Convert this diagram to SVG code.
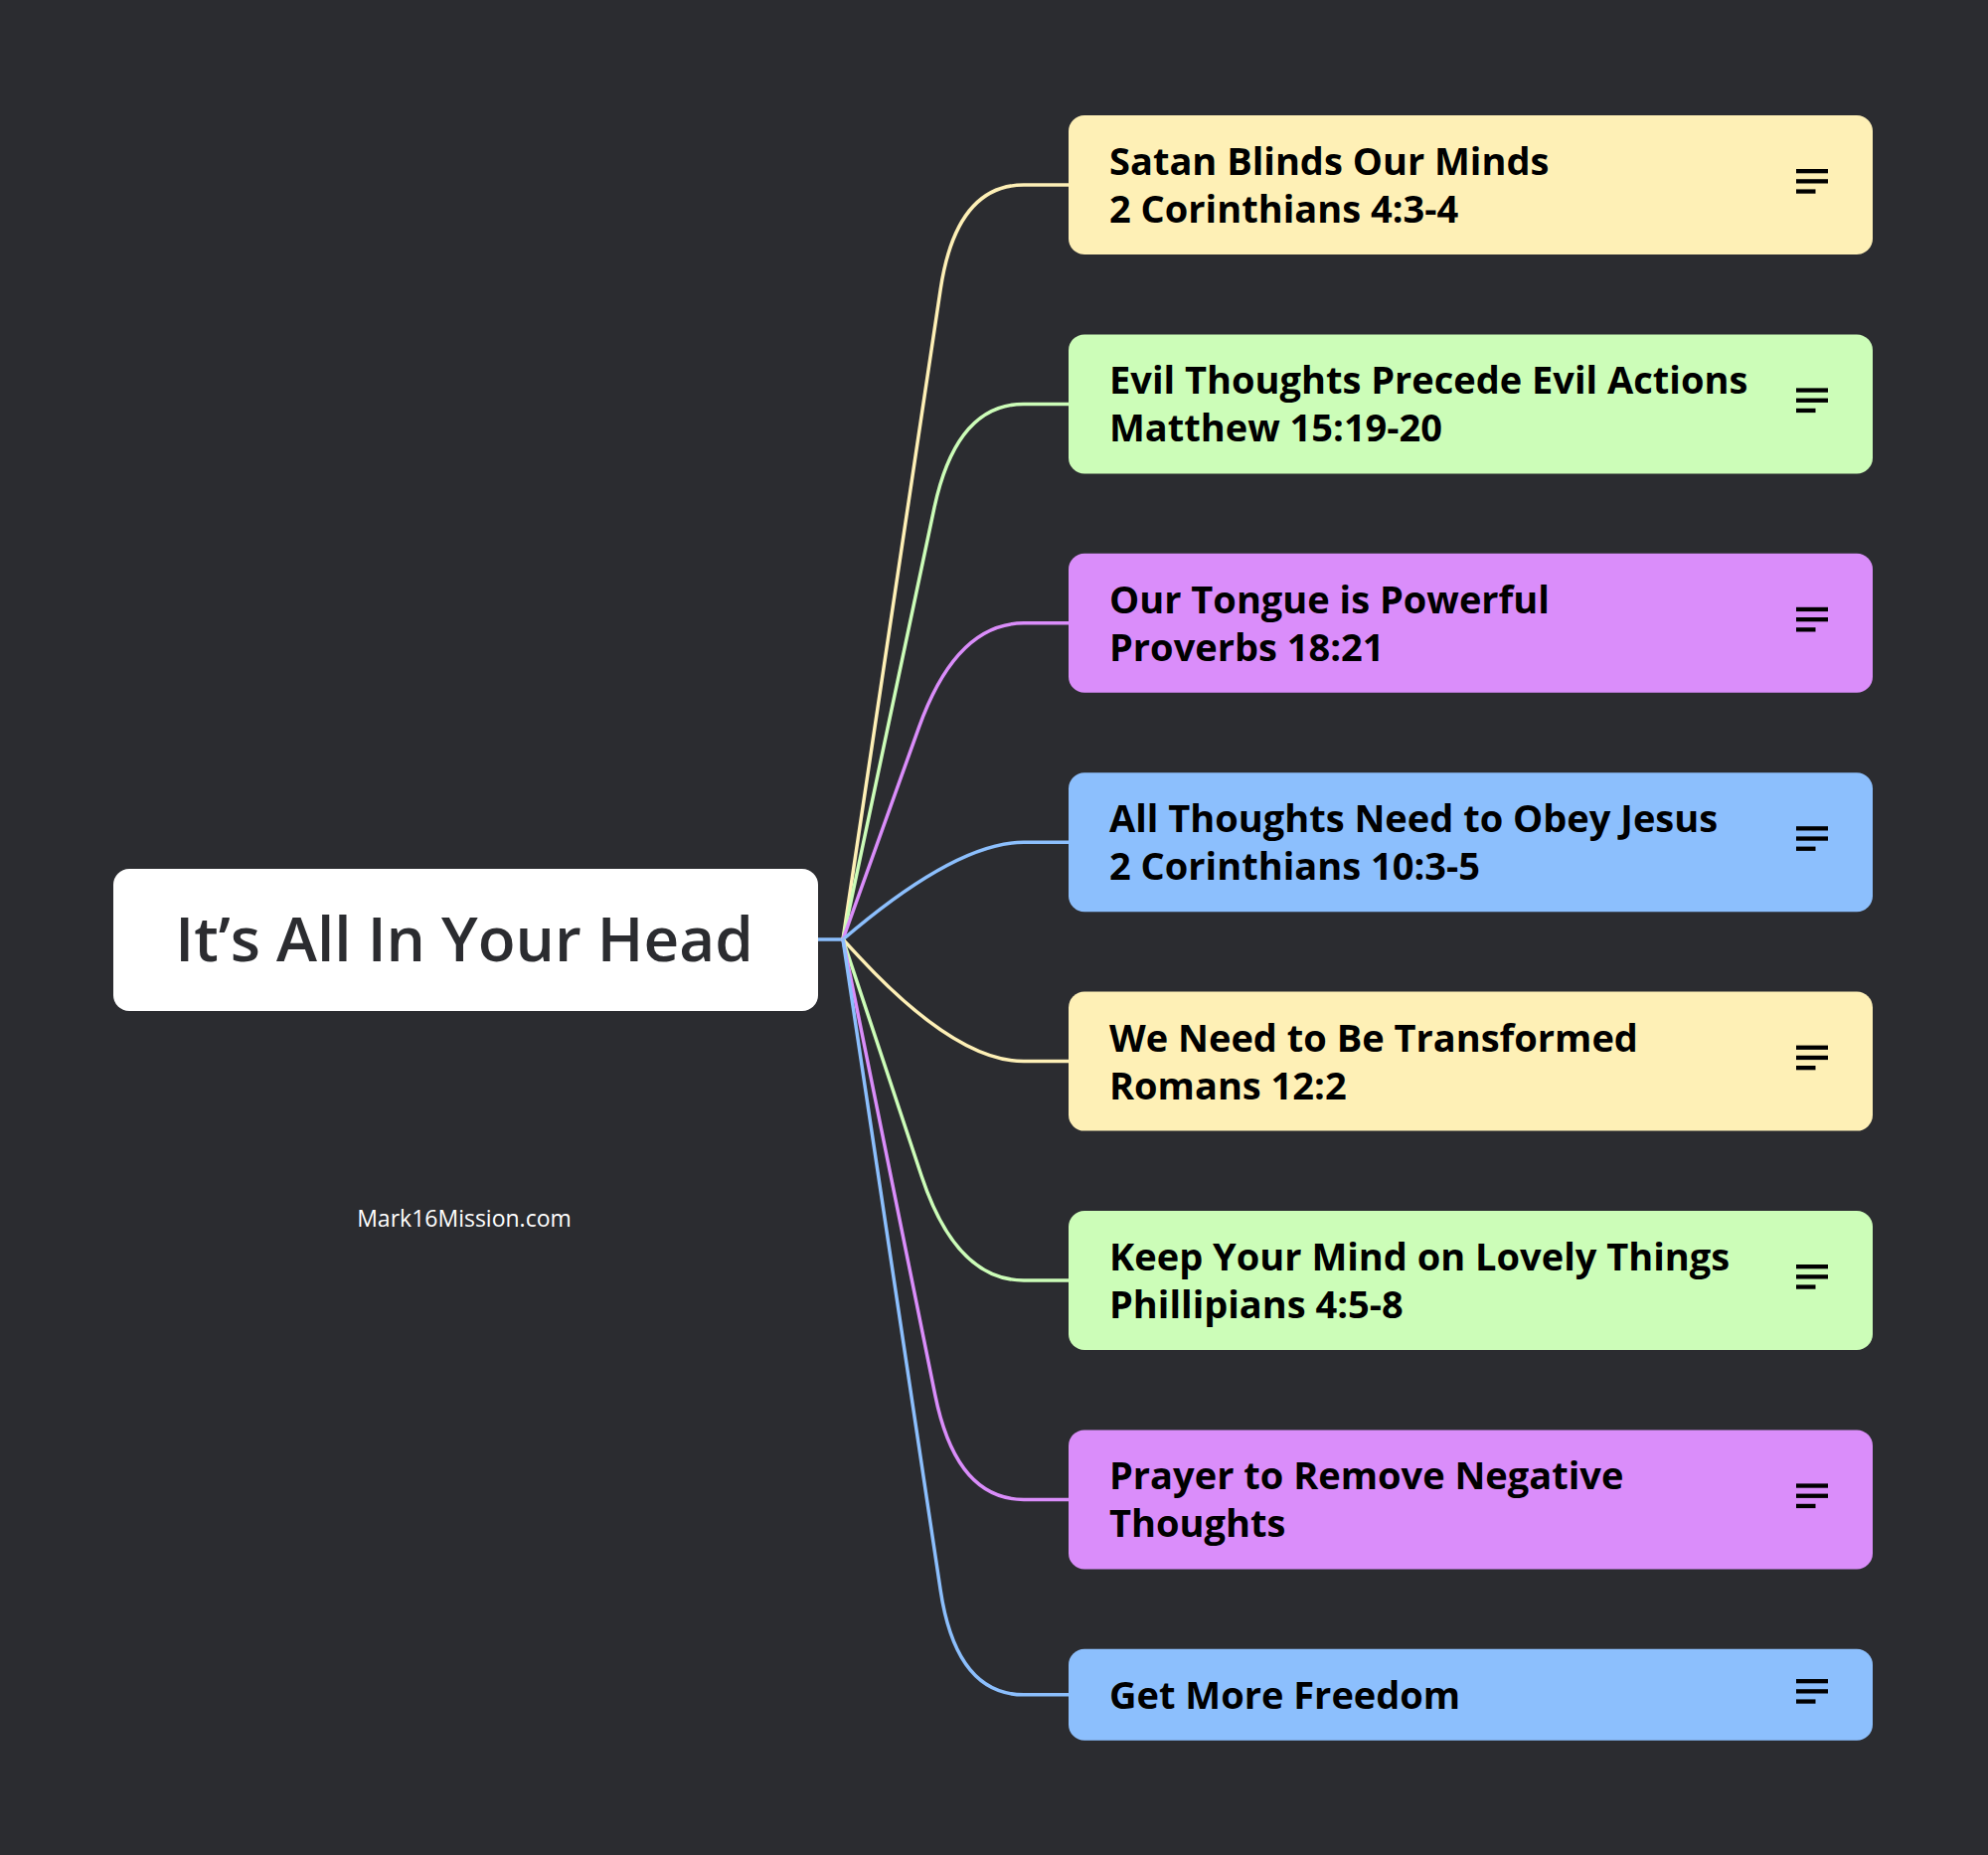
<svg xmlns="http://www.w3.org/2000/svg" width="2000" height="1866" viewBox="0 0 2000 1866">
<defs>
<style>
.bg{fill:#2b2c30}
.root-box{fill:#ffffff}
.root-txt{font-family:"Open Sans","Liberation Sans",sans-serif;font-weight:600;font-size:62px;fill:#2b2c30;text-anchor:middle}
.box{stroke:none}
.yel{fill:#fef0b6}
.grn{fill:#ccfdb8}
.pur{fill:#da8dfa}
.blu{fill:#8cbffd}
.txt{font-family:"Open Sans","Liberation Sans",sans-serif;font-weight:700;font-size:38px;fill:#000000}
.icon{fill:#000000}
.wm{font-family:"Open Sans","Liberation Sans",sans-serif;font-size:23px;fill:#ffffff;text-anchor:middle}
.c{fill:none;stroke-width:3.5;stroke-linecap:round;stroke-linejoin:round}
.cy{stroke:#fef0b6}
.cg{stroke:#ccfdb8}
.cp{stroke:#da8dfa}
.cb{stroke:#8cbffd}
</style>
<g id="ic">
<rect x="0" y="0" width="32" height="4.3"/>
<rect x="0" y="10.2" width="32" height="4.3"/>
<rect x="0" y="20.4" width="19.5" height="4.3"/>
</g>
</defs>
<rect class="bg" x="0" y="0" width="2000" height="1866"/>

<g id="connectors">
<path class="c cb" d="M822 945 L849 945"/>
<path class="c cy" d="M848 945 L946.2 291 Q962 186 1030 186 L1075 186"/>
<path class="c cg" d="M848 945 L939.8 511.4 Q962 406.4 1030 406.4 L1075 406.4"/>
<path class="c cp" d="M848 945 L924.4 731.8 Q962 626.8 1030 626.8 L1075 626.8"/>
<path class="c cb" d="M848 945 Q962 847.2 1030 847.2 L1075 847.2"/>
<path class="c cy" d="M848 945 L864.4 962.6 Q962 1067.6 1030 1067.6 L1075 1067.6"/>
<path class="c cg" d="M848 945 L927.1 1183 Q962 1288 1030 1288 L1075 1288"/>
<path class="c cp" d="M848 945 L940.8 1403.4 Q962 1508.4 1030 1508.4 L1075 1508.4"/>
<path class="c cb" d="M848 945 L946.2 1599.8 Q962 1704.8 1030 1704.8 L1075 1704.8"/>
</g>

<g id="root">
<rect class="root-box" x="114" y="874" width="709" height="143" rx="16"/>
<text class="root-txt" x="467" y="967">It’s All In Your Head</text>
</g>

<g id="watermark">
<text class="wm" x="467" y="1234">Mark16Mission.com</text>
</g>

<g id="n1">
<rect class="box yel" x="1075" y="116" width="809" height="140" rx="16"/>
<text class="txt" x="1116" y="176">Satan Blinds Our Minds</text>
<text class="txt" x="1116" y="224">2 Corinthians 4:3-4</text>
<use href="#ic" class="icon" x="1807" y="170"/>
</g>

<g id="n2">
<rect class="box grn" x="1075" y="336.4" width="809" height="140" rx="16"/>
<text class="txt" x="1116" y="396.4">Evil Thoughts Precede Evil Actions</text>
<text class="txt" x="1116" y="444.4">Matthew 15:19-20</text>
<use href="#ic" class="icon" x="1807" y="390.4"/>
</g>

<g id="n3">
<rect class="box pur" x="1075" y="556.8" width="809" height="140" rx="16"/>
<text class="txt" x="1116" y="616.8">Our Tongue is Powerful</text>
<text class="txt" x="1116" y="664.8">Proverbs 18:21</text>
<use href="#ic" class="icon" x="1807" y="610.8"/>
</g>

<g id="n4">
<rect class="box blu" x="1075" y="777.2" width="809" height="140" rx="16"/>
<text class="txt" x="1116" y="837.2">All Thoughts Need to Obey Jesus</text>
<text class="txt" x="1116" y="885.2">2 Corinthians 10:3-5</text>
<use href="#ic" class="icon" x="1807" y="831.2"/>
</g>

<g id="n5">
<rect class="box yel" x="1075" y="997.6" width="809" height="140" rx="16"/>
<text class="txt" x="1116" y="1057.6">We Need to Be Transformed</text>
<text class="txt" x="1116" y="1105.6">Romans 12:2</text>
<use href="#ic" class="icon" x="1807" y="1051.6"/>
</g>

<g id="n6">
<rect class="box grn" x="1075" y="1218" width="809" height="140" rx="16"/>
<text class="txt" x="1116" y="1278">Keep Your Mind on Lovely Things</text>
<text class="txt" x="1116" y="1326">Phillipians 4:5-8</text>
<use href="#ic" class="icon" x="1807" y="1272"/>
</g>

<g id="n7">
<rect class="box pur" x="1075" y="1438.4" width="809" height="140" rx="16"/>
<text class="txt" x="1116" y="1498.4">Prayer to Remove Negative</text>
<text class="txt" x="1116" y="1546.4">Thoughts</text>
<use href="#ic" class="icon" x="1807" y="1492.4"/>
</g>

<g id="n8">
<rect class="box blu" x="1075" y="1658.8" width="809" height="92" rx="16"/>
<text class="txt" x="1116" y="1719">Get More Freedom</text>
<use href="#ic" class="icon" x="1807" y="1689"/>
</g>
</svg>
